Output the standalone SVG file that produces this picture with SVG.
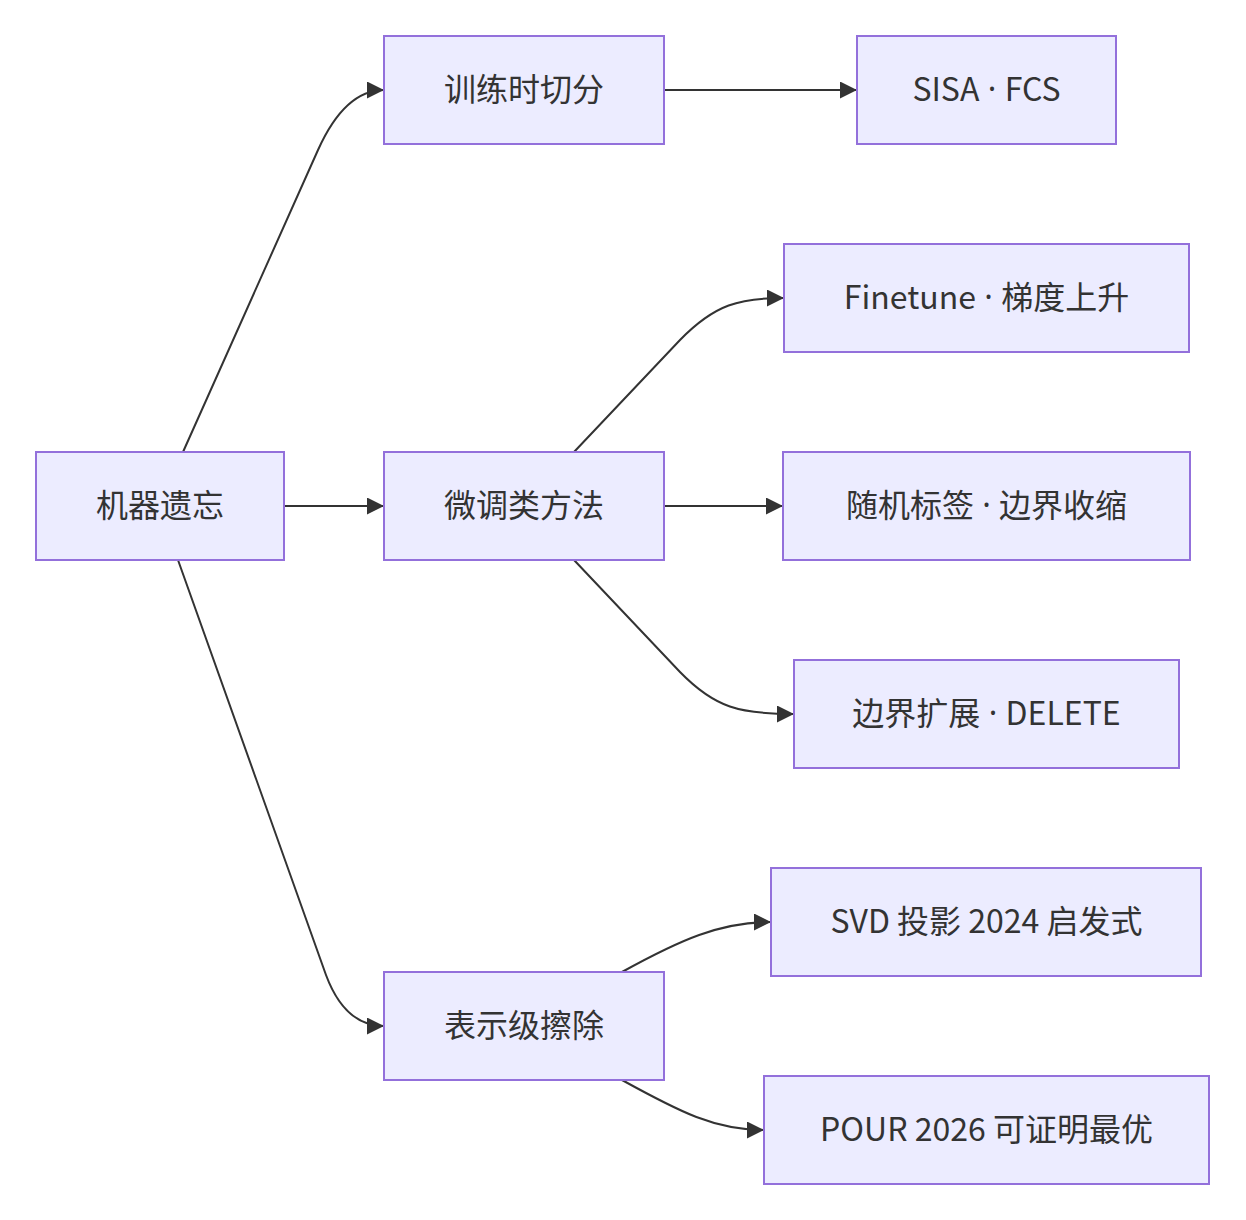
<svg xmlns="http://www.w3.org/2000/svg" width="1246" height="1220" viewBox="0 0 1246 1220">
<defs>
<style>
.node rect{fill:#ECECFF;stroke:#9370DB;stroke-width:2}
.node text{font-family:"Noto Sans CJK SC","Noto Sans",sans-serif;font-size:32px;fill:#333333;text-anchor:middle;dominant-baseline:central}
.node tspan.d{font-family:"Noto Sans",sans-serif}
.edges path{fill:none;stroke:#333333;stroke-width:2;marker-end:url(#arrow)}
</style>
<marker id="arrow" viewBox="0 0 10 10" refX="10" refY="5" markerUnits="userSpaceOnUse" markerWidth="17" markerHeight="17" orient="auto">
<path d="M0,0 L10,5 L0,10 z" fill="#333333"/>
</marker>
</defs>
<rect width="1246" height="1220" fill="#ffffff"/>
<g class="edges">
<path d="M183,452 L318,150 Q345,90 384,90"/>
<path d="M284,506 L384,506"/>
<path d="M178,560 L326,975 Q345,1026 384,1026"/>
<path d="M664,90 L857,90"/>
<path d="M574,452 L680,340 C715,304 740,298 784,298"/>
<path d="M664,506 L783,506"/>
<path d="M574,560 L680,672 C715,708 740,714 794,714"/>
<path d="M622,972 C680,940 720,922 771,922"/>
<path d="M622,1080 C680,1112 715,1130 764,1130"/>
</g>
<g id="n1" class="node"><rect x="36" y="452" width="248" height="108"/><text x="160" y="503">机器遗忘</text></g>
<g id="n2" class="node"><rect x="384" y="36" width="280" height="108"/><text x="524" y="87">训练时切分</text></g>
<g id="n3" class="node"><rect x="384" y="452" width="280" height="108"/><text x="524" y="503">微调类方法</text></g>
<g id="n4" class="node"><rect x="384" y="972" width="280" height="108"/><text x="524" y="1023">表示级擦除</text></g>
<g id="n5" class="node"><rect x="857" y="36" width="259" height="108"/><text x="986.5" y="87">SISA<tspan class="d"> · </tspan>FCS</text></g>
<g id="n6" class="node"><rect x="784" y="244" width="405" height="108"/><text x="986.5" y="295">Finetune<tspan class="d"> · </tspan>梯度上升</text></g>
<g id="n7" class="node"><rect x="783" y="452" width="407" height="108"/><text x="986.5" y="503">随机标签<tspan class="d"> · </tspan>边界收缩</text></g>
<g id="n8" class="node"><rect x="794" y="660" width="385" height="108"/><text x="986.5" y="711">边界扩展<tspan class="d"> · </tspan>DELETE</text></g>
<g id="n9" class="node"><rect x="771" y="868" width="430" height="108"/><text x="986.5" y="919">SVD 投影 2024 启发式</text></g>
<g id="n10" class="node"><rect x="764" y="1076" width="445" height="108"/><text x="986.5" y="1127">POUR 2026 可证明最优</text></g>
</svg>
